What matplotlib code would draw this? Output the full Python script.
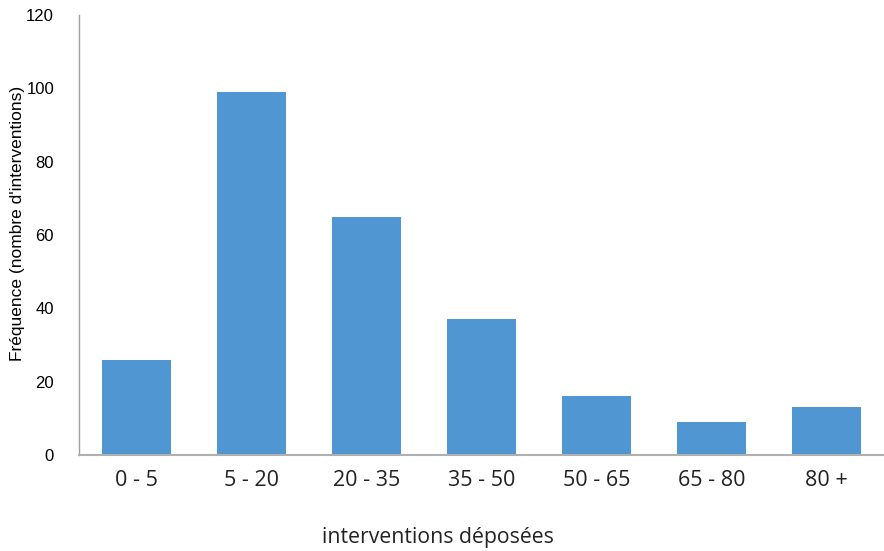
import matplotlib
matplotlib.use("Agg")
from matplotlib import pyplot as plt

# valeurs
categories = ["0 - 5", "5 - 20", "20 - 35", "35 - 50", "50 - 65", "65 - 80", "80 +"]
frequences = [26, 99, 65, 37, 16, 9, 13]
yticks = [0, 20, 40, 60, 80, 100, 120]

fig = plt.figure(figsize=(8.84, 5.51), dpi=100)
ax = fig.add_axes([79 / 884, 96 / 551, 805 / 884, 440 / 551])

x = range(len(categories))
ax.bar(x, frequences, width=0.6, color="#5096d2")

ax.set_xlim(-0.5, 6.5)
ax.set_ylim(0, 120)
ax.set_yticks(yticks)
ax.set_xticks(list(x))
ax.set_xticklabels(categories, fontsize=15.5, family=["Open Sans", "DejaVu Sans"], color="#222222")
ax.set_yticklabels([str(v) for v in yticks], fontsize=12,
                   family=["Liberation Sans Narrow", "Liberation Sans", "DejaVu Sans"])
ax.tick_params(axis="y", length=0, pad=18)
ax.tick_params(axis="x", length=0, pad=11)

for s in ["top", "right"]:
    ax.spines[s].set_visible(False)
ax.spines["left"].set_color("#a0a0a0")
ax.spines["bottom"].set_color("#b0b0b0")
ax.spines["left"].set_linewidth(1)
ax.spines["bottom"].set_linewidth(1.5)

fig.text(18 / 884, 1 - 223 / 551, "Fréquence (nombre d'interventions)", rotation=90,
         ha="center", va="center", fontsize=12.5,
         family=["Liberation Sans Narrow", "Liberation Sans", "DejaVu Sans"])
fig.text(438 / 884, 1 - 537 / 551, "interventions déposées", ha="center", va="center",
         fontsize=15.3, family=["Open Sans", "DejaVu Sans"], color="#222222")

fig.savefig("out.png", dpi=100)
